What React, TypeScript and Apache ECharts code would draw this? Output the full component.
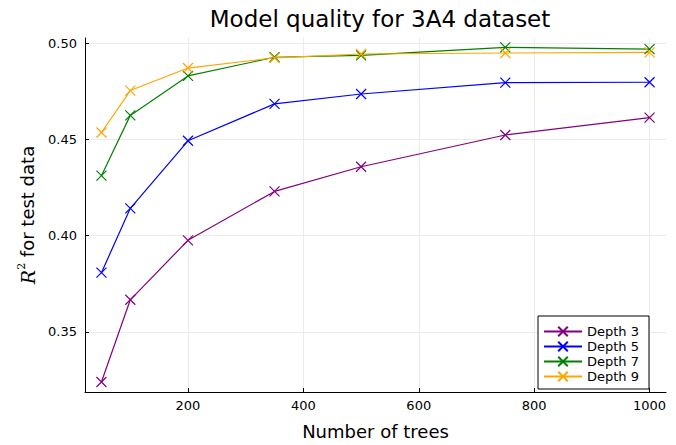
import React, { useEffect, useRef } from "react";
import * as echarts from "echarts";

const trees = [50, 100, 200, 350, 500, 750, 1000];
const depth3 = [0.324, 0.3667, 0.3976, 0.423, 0.4358, 0.4523, 0.4613];
const depth5 = [0.3808, 0.4142, 0.4493, 0.4685, 0.4736, 0.4795, 0.4797];
const depth7 = [0.4312, 0.4625, 0.483, 0.4927, 0.4937, 0.4978, 0.4969];
const depth9 = [0.4536, 0.4754, 0.4871, 0.4924, 0.4944, 0.4949, 0.4952];
const xTicks = [200, 400, 600, 800, 1000];
const yTicks = [0.35, 0.4, 0.45, 0.5];

const seriesDefs = [
  { name: "Depth 3", data: depth3, color: "#800080" },
  { name: "Depth 5", data: depth5, color: "#0000ff" },
  { name: "Depth 7", data: depth7, color: "#008000" },
  { name: "Depth 9", data: depth9, color: "#ffa500" },
];

const FONT = "DejaVu Sans";

export default function App() {
  const ref = useRef<HTMLDivElement>(null);
  useEffect(() => {
    if (!ref.current) return;
    const chart = echarts.init(ref.current, null, { renderer: "svg" });
    const xSym = "path://M0,0L10,10M10,0L0,10";
    chart.setOption({
      animation: false,
      backgroundColor: "#fff",
      title: {
        text: "Model quality for 3A4 dataset",
        left: 375,
        top: 2,
        textAlign: "center",
        textStyle: { fontFamily: FONT, fontSize: 23, fontWeight: "normal", color: "#000" },
      },
      grid: { left: 85, right: 10, top: 38, bottom: 45 },
      legend: {
        orient: "vertical",
        right: 27,
        bottom: 56,
        backgroundColor: "#fff",
        borderColor: "#000",
        borderWidth: 1,
        borderRadius: 0,
        padding: [9, 10, 6, 5],
        itemWidth: 38,
        itemHeight: 12,
        itemGap: 2,
        textStyle: { fontFamily: FONT, fontSize: 13, color: "#000" },
        data: seriesDefs.map((s) => s.name),
      },
      xAxis: {
        type: "value",
        min: 21.5,
        max: 1028.5,
        name: "Number of trees",
        nameLocation: "middle",
        nameGap: 30,
        nameTextStyle: { fontFamily: FONT, fontSize: 18, color: "#000" },
        axisLine: { show: true, lineStyle: { color: "#000", width: 1 } },
        axisTick: { show: true, inside: true, length: 4, customValues: xTicks, lineStyle: { color: "#000" } },
        axisLabel: {
          customValues: xTicks,
          fontFamily: FONT,
          fontSize: 13,
          color: "#000",
          margin: 7,
          formatter: (v: number) => String(v),
        },
        splitLine: { show: true, lineStyle: { color: "#ebebeb", width: 1 } },
      },
      yAxis: {
        type: "value",
        min: 0.3188,
        max: 0.5027,
        name: "{r|R}{s|2} for test data",
        nameLocation: "middle",
        nameGap: 38,
        nameRotate: 90,
        nameTextStyle: {
          fontFamily: FONT,
          fontSize: 18,
          color: "#000",
          rich: {
            r: { fontFamily: "DejaVu Serif", fontStyle: "italic", fontSize: 19, color: "#000" },
            s: { fontFamily: "DejaVu Serif", fontSize: 11, color: "#000", verticalAlign: "bottom", padding: [0, 0, 12, 0] },
          },
        },
        axisLine: { show: true, onZero: false, lineStyle: { color: "#000", width: 1 } },
        axisTick: { show: true, inside: true, length: 4, customValues: yTicks, lineStyle: { color: "#000" } },
        axisLabel: {
          customValues: yTicks,
          fontFamily: FONT,
          fontSize: 13,
          color: "#000",
          margin: 8,
          formatter: (v: number) => v.toFixed(2),
        },
        splitLine: { show: true, lineStyle: { color: "#ebebeb", width: 1 } },
      },
      series: seriesDefs.map((s) => ({
        name: s.name,
        type: "line",
        data: trees.map((t, i) => [t, s.data[i]]),
        symbol: xSym,
        symbolSize: 10,
        showSymbol: true,
        lineStyle: { color: s.color, width: 1.2 },
        itemStyle: { color: s.color, borderColor: s.color, borderWidth: 1.2 },
        emphasis: { disabled: true },
      })),
    });
    return () => chart.dispose();
  }, []);
  return <div ref={ref} style={{ position: "absolute", left: 0, top: 0, width: 676, height: 445 }} />;
}
